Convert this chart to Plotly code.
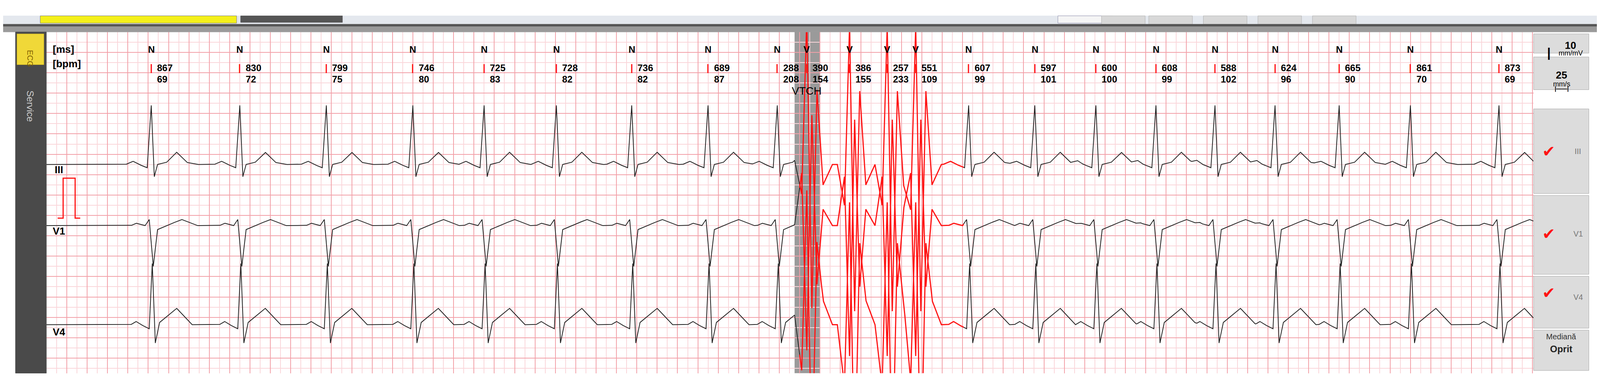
import numpy as np
import plotly.graph_objects as go

W, H = 4382, 995

# beat times (s), beat types and the RR / bpm labels shown above each beat
beat_t = [1.03, 1.90, 2.75, 3.60, 4.30, 5.01, 5.75, 6.50, 7.18, 7.47, 7.89, 8.26, 8.54,
          9.06, 9.71, 10.31, 10.90, 11.48, 12.07, 12.70, 13.40, 14.27]
beat_type = ["N"] * 9 + ["V"] * 4 + ["N"] * 9
rr_ms = [867, 830, 799, 746, 725, 728, 736, 689, 288, 390, 386, 257, 551, 607, 597, 600,
         608, 588, 624, 665, 861, 873]
bpm = [69, 72, 75, 80, 83, 82, 82, 87, 208, 154, 155, 233, 109, 99, 101, 100, 99, 102,
       96, 90, 70, 69]

leads = ["III", "V1", "V4"]
baseline_mm = [-32.5, -47.5, -71.8]

# beat shapes (time offset s, mV)
n_tpl_t = {"III": [-0.25, -0.18, -0.12, -0.04, 0.0, 0.03, 0.06, 0.15, 0.25, 0.35, 0.45],
           "V1": [-0.2, -0.15, -0.06, -0.02, 0.02, 0.06, 0.15, 0.3, 0.45],
           "V4": [-0.2, -0.15, -0.1, -0.02, 0.01, 0.04, 0.08, 0.25, 0.4]}
n_tpl_v = {"III": [0, 0.08, 0, -0.08, 1.45, -0.3, 0, 0.05, 0.3, 0.05, 0],
           "V1": [0, 0.06, 0, 0.15, -1.0, -0.1, 0, 0.15, 0],
           "V4": [0, 0.08, 0, -0.1, 1.5, -0.45, 0.05, 0.4, 0]}
v_tpl_t = {"III": [-0.12, -0.05, 0.0, 0.05, 0.1, 0.16, 0.25],
           "V1": [-0.12, -0.05, 0.0, 0.05, 0.1, 0.16, 0.25],
           "V4": [-0.12, -0.05, 0.0, 0.05, 0.1, 0.16, 0.25]}
v_tpl_v = {"III": [0, -1.0, 3.4, -3.6, 1.8, -0.5, 0],
           "V1": [0, 1.2, -3.2, 2.6, -1.5, 0.4, 0],
           "V4": [0, -1.5, 3.0, -3.8, 2.0, 0.6, 0]}

red_start, red_end = 7.40, 9.01
band = (7.35, 7.60)

t = np.arange(0, 14.61, 0.002)

fig = go.Figure()
for lead, base in zip(leads, baseline_mm):
    sig = np.zeros_like(t)
    for tb, kind in zip(beat_t, beat_type):
        if kind == "N":
            sig += np.interp(t - tb, n_tpl_t[lead], n_tpl_v[lead], left=0, right=0)
        else:
            sig += np.interp(t - tb, v_tpl_t[lead], v_tpl_v[lead], left=0, right=0)
    y = base + sig * 10
    red = (t >= red_start) & (t <= red_end)
    edge = (np.abs(t - red_start) < 0.002) | (np.abs(t - red_end) < 0.002)
    fig.add_trace(go.Scatter(x=t, y=np.where(~red | edge, y, np.nan),
                             mode="lines", line=dict(color="#222222", width=2), showlegend=False))
    fig.add_trace(go.Scatter(x=t, y=np.where(red, y, np.nan), mode="lines",
                             line=dict(color="#ff1414", width=3), showlegend=False))


def px(x):
    return x / W


def py(y):
    return 1 - y / H


shapes = []
def rect(x0, y0, x1, y1, color, line=None, layer="above"):
    shapes.append(dict(type="rect", xref="paper", yref="paper", x0=px(x0), x1=px(x1),
                       y0=py(y1), y1=py(y0), fillcolor=color, layer=layer,
                       line=dict(color=line or color, width=1)))

# top bars
rect(0, 33, W, 55, "#e4e8ee")
rect(102, 33, 642, 52, "#f4f01a", "#777777")
rect(653, 33, 933, 50, "#555555")
rect(2900, 33, 3050, 52, "#f5f5f5", "#8888aa")
for bx in [3020, 3150, 3300, 3450, 3600]:
    rect(bx, 33, bx + 120, 55, "#d8d8d8", "#b0b0b0")
rect(0, 55, W, 75, "#9a9a9a")
rect(0, 55, W, 60, "#555555")
# left sidebar
rect(34, 75, 119, 962, "#4a4a4a")
rect(38, 80, 112, 160, "#f0d838", "#c8b020")
# right panel
for y0, y1 in [(80, 130), (140, 225), (275, 495), (500, 705), (710, 845), (850, 955)]:
    rect(4208, y0, 4360, y1, "#dcdcdc", "#a8a8a8")
# grey band at first V beat
shapes.append(dict(type="rect", xref="x", yref="paper", x0=band[0], x1=band[1], y0=py(962), y1=py(75),
                   fillcolor="rgba(120,120,120,0.75)", line=dict(width=0), layer="between"))
# calibration pulse
shapes.append(dict(type="path", xref="paper", yref="paper",
                   path=f"M {px(150)} {py(559)} L {px(165)} {py(559)} L {px(165)} {py(455)} L {px(198)} {py(455)} L {px(198)} {py(559)} L {px(212)} {py(559)}",
                   line=dict(color="#ff1414", width=3)))

ann = []
def text(x, y, s, size=22, color="black", xref="paper", bold=True, angle=0, xanchor="center"):
    ann.append(dict(x=x if xref != "paper" else px(x), y=py(y), xref=xref, yref="paper", text=f"<b>{s}</b>" if bold else s,
                    showarrow=False, textangle=angle, xanchor=xanchor,
                    font=dict(size=size, color=color, family="Liberation Sans Narrow, Arial Narrow, Arial")))

text(134, 103, "[ms]", 26, xanchor="left")
text(134, 140, "[bpm]", 26, xanchor="left")
for tb, kind, ms, b in zip(beat_t, beat_type, rr_ms, bpm):
    text(tb, 105, kind, 24, xref="x")
    text(tb, 152, "|", 24, color="#ff1414", xref="x")
    text(tb + 0.05, 152, str(ms), 24, xref="x", xanchor="left")
    text(tb + 0.05, 182, str(b), 24, xref="x", xanchor="left")
text(7.47, 210, "VTCH", 28, xref="x", bold=False)
text(154, 433, "III", 26)
text(154, 593, "V1", 26)
text(154, 872, "V4", 26)
text(75, 120, "ECG", 20, color="#806000", angle=90, bold=False)
text(75, 225, "Service", 24, color="#cccccc", angle=90, bold=False)
text(4250, 105, "I", 44, bold=False)
text(4310, 92, "10", 26)
text(4310, 118, "mm/mV", 18, bold=False)
text(4285, 170, "25", 26)
text(4285, 198, "mm/s", 18, bold=False)
text(4285, 212, "|——|", 14)
for yy, name in [(385, "III"), (600, "V1"), (778, "V4")]:
    text(4250, yy, "✔", 40, color="#ff1414", bold=False)
    text(4330, yy, name, 20, color="#777777", bold=False)
text(4284, 880, "Mediană", 20, color="#333333", bold=False)
text(4284, 915, "Oprit", 24, color="#222222")

fig.update_layout(
    autosize=True, margin=dict(l=0, r=0, t=0, b=0),
    paper_bgcolor="white", plot_bgcolor="white",
    shapes=shapes, annotations=ann,
    xaxis=dict(domain=[px(119), px(4208)], range=[0, 14.61], dtick=0.2, tick0=0,
               gridcolor="#f2a0a8", gridwidth=1.5, showticklabels=False, zeroline=False,
               minor=dict(dtick=0.1, gridcolor="#fad6da", showgrid=True)),
    yaxis=dict(domain=[py(962), py(75)], range=[-83.7, 0], dtick=5, tick0=0,
               gridcolor="#f2a0a8", gridwidth=1.5, showticklabels=False, zeroline=False,
               minor=dict(dtick=2.5, gridcolor="#fad6da", showgrid=True)),
)

fig.write_html("out.html", config={"displayModeBar": False})
